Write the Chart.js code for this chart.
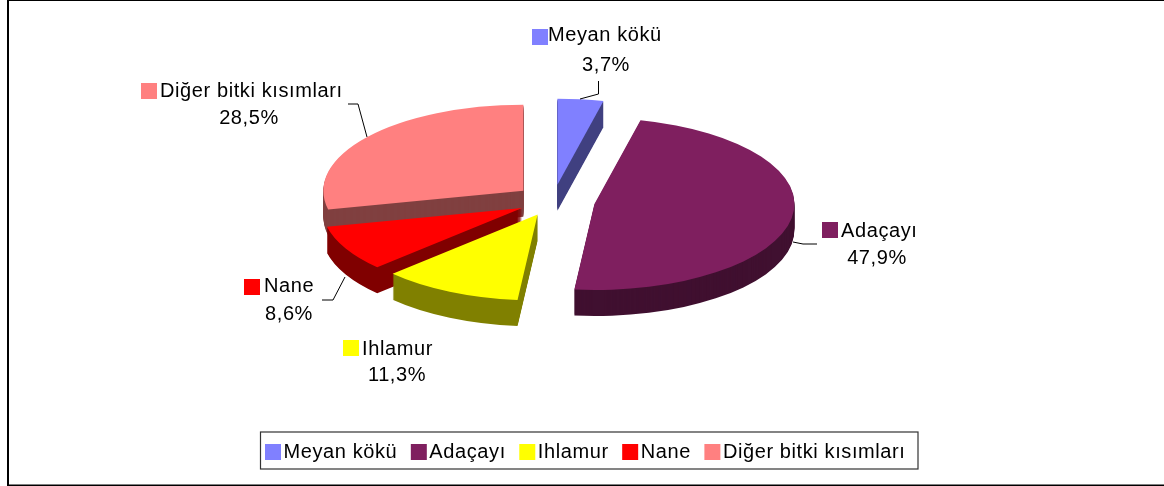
<!DOCTYPE html>
<html><head><meta charset="utf-8">
<style>html,body{margin:0;padding:0;background:#fff}canvas{display:block}</style>
<script src="https://cdn.jsdelivr.net/npm/chart.js@4/dist/chart.umd.min.js"></script>
</head><body>
<canvas id="c" width="1164" height="486" style="width:1164px;height:486px"></canvas>
<script>
const categories = ["Meyan kökü","Adaçayı","Ihlamur","Nane","Diğer bitki kısımları"];
const shares = [3.7,47.9,11.3,8.6,28.5];
const percentLabels = ["3,7%","47,9%","11,3%","8,6%","28,5%"];
const topColors = ["#8080FF","#7F1F5F","#FFFF00","#FF0000","#FF8080"];
const sideColors = ["#404080","#401030","#808000","#800000","#804040"];

// view settings for the tilted, extruded look
const view = {cx:553, cy:201, squash:0.43, depth:26, radius:200};
const explode = [38,42,35,35,38];
const paintOrder = [4,0,1,3,2];
const FONT = '20px "Liberation Sans"';
const SPACING = '0.6px';
const callouts = [
 {box:[532,29],text:[548,41],pct:[606,71],line:[[580,99],[598.5,94],[598.5,81]]},
 {box:[822,222],text:[841,237],pct:[877,264],line:[[817,244],[803,244],[793,242]]},
 {box:[343,340],text:[362,355],pct:[397,381],line:null},
 {box:[244,279],text:[264,292],pct:[289,320],line:[[322,300],[333,300],[345,277]]},
 {box:[141,83],text:[160,97],pct:[249,124],line:[[348,104],[358,104],[367,137]]}
];

const tiltPlugin = {
 id:'tilt',
 beforeUpdate(chart){ chart.ctx.letterSpacing=SPACING; },
 beforeLayout(chart){ chart.ctx.letterSpacing=SPACING; },
 beforeDraw(chart){
  const c=chart.ctx;
  c.letterSpacing=SPACING;
  c.save();
  c.fillStyle='#fff'; c.fillRect(0,0,1164,486);
  c.fillStyle='#000';
  c.fillRect(7,0,2,486); c.fillRect(7,0,1157,1); c.fillRect(7,484.5,1157,1.5);
  c.strokeStyle='#333'; c.lineWidth=1.2;
  c.strokeRect(260.5,432,657.5,37);
  c.restore();
 },
 beforeDatasetDraw(chart,args){
  const c=chart.ctx, arcs=args.meta.data;
  for(const i of paintOrder){
   const a=arcs[i], mid=(a.startAngle+a.endAngle)/2;
   const base=a.options, dark=Object.create(base);
   dark.backgroundColor=sideColors[i];
   for(let d=view.depth;d>=0;d--){
    c.save();
    c.translate(view.cx,view.cy+d);
    c.scale(1,view.squash);
    c.translate(Math.cos(mid)*explode[i]-a.x,Math.sin(mid)*explode[i]-a.y);
    a.options = d===0?base:dark;
    a.draw(c);
    a.options = base;
    c.restore();
   }
  }
  return false;
 },
 afterDatasetsDraw(chart){
  const c=chart.ctx;
  c.save();
  c.font=FONT; c.textBaseline='alphabetic';
  callouts.forEach((k,i)=>{
   if(k.line){
    c.strokeStyle='#000'; c.lineWidth=1; c.beginPath();
    k.line.forEach((p,j)=>j?c.lineTo(p[0],p[1]):c.moveTo(p[0],p[1]));
    c.stroke();
   }
   c.fillStyle=topColors[i]; c.fillRect(k.box[0],k.box[1],16,16);
   c.fillStyle='#000';
   c.textAlign='left'; c.fillText(categories[i],k.text[0],k.text[1]);
   c.textAlign='center'; c.fillText(percentLabels[i],k.pct[0],k.pct[1]);
  });
  c.restore();
 }
};

new Chart(document.getElementById('c'),{
 type:'pie',
 data:{labels:categories,datasets:[{data:shares,backgroundColor:topColors,borderWidth:0,radius:view.radius}]},
 options:{
  responsive:false,animation:false,
  events:[],
  layout:{padding:{left:14,right:0,top:0,bottom:14}},
  plugins:{
   tooltip:{enabled:false},
   legend:{display:true,position:'bottom',
    labels:{color:'#000',font:{family:'"Liberation Sans"',size:20},
     usePointStyle:true,pointStyle:'rect',boxWidth:1,boxHeight:16,padding:21}}
  }
 },
 plugins:[tiltPlugin]
});
</script>
</body></html>
